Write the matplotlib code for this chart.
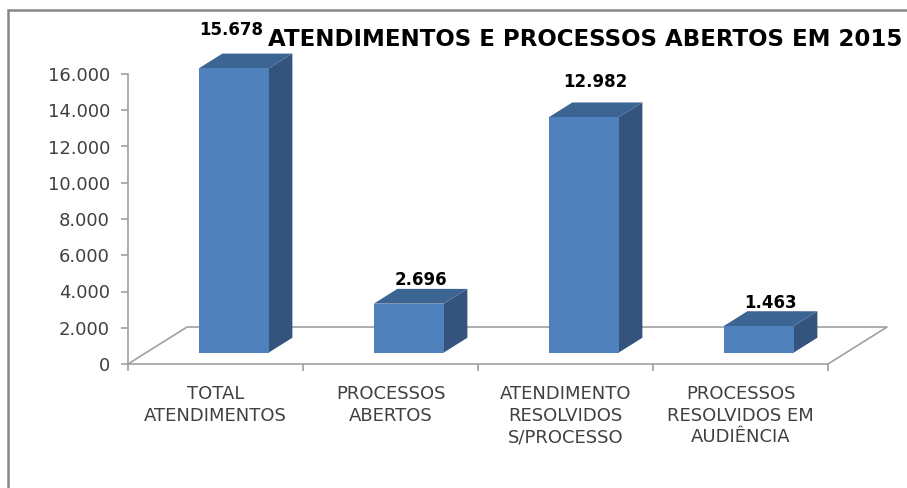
import matplotlib
matplotlib.use("Agg")
import matplotlib.pyplot as plt
from matplotlib.patches import Polygon, Rectangle
from matplotlib.ticker import FuncFormatter, FixedLocator

# data
categories = ["TOTAL\nATENDIMENTOS", "PROCESSOS\nABERTOS",
              "ATENDIMENTO\nRESOLVIDOS\nS/PROCESSO", "PROCESSOS\nRESOLVIDOS EM\nAUDIÊNCIA"]
values = [15678, 2696, 12982, 1463]
y_ticks = [0, 2000, 4000, 6000, 8000, 10000, 12000, 14000, 16000]
title = "ATENDIMENTOS E PROCESSOS ABERTOS EM 2015"

# fake 3D look (Excel-style): full floor depth in data units
DEPTH_X = 0.337
DEPTH_Y = 2040
BAR_W = 0.4
BAR_START = 0.31   # fraction of depth where bar front sits
BAR_DEPTH = 0.4    # fraction of depth used by bar

FRONT = "#4F81BD"
SIDE = "#34547E"
TOP = "#3D6594"
GRID = "#A0A0A0"
TXT = "#404040"

fig = plt.figure(figsize=(9.07, 4.88), dpi=100)
fig.patch.set_facecolor("white")

# outer chart frame (left and top edges visible)
fig.patches.append(Rectangle((8 / 907, -0.1), 1.2, (488 - 10) / 488 + 0.1,
                             transform=fig.transFigure, fill=False,
                             edgecolor="#868686", linewidth=1.8))

ax = fig.add_axes([128 / 907, (488 - 364) / 488, 700 / 907, 290 / 488])
ax.set_xlim(0, len(categories))
ax.set_ylim(0, 16000)
ax.set_facecolor("none")

for s in ["top", "right"]:
    ax.spines[s].set_visible(False)
for s in ["left", "bottom"]:
    ax.spines[s].set_color(GRID)
    ax.spines[s].set_linewidth(1.2)

# floor
n = len(categories)
floor_x = [0, DEPTH_X, n + DEPTH_X, n]
floor_y = [0, DEPTH_Y, DEPTH_Y, 0]
ax.plot(floor_x, floor_y, color=GRID, lw=1.2, clip_on=False, zorder=1)

# bars
xs = [i + 0.5 for i in range(n)]
ox = BAR_START * DEPTH_X
oy = BAR_START * DEPTH_Y
bx = BAR_DEPTH * DEPTH_X
by = BAR_DEPTH * DEPTH_Y
ax.bar([x + ox for x in xs], values, width=BAR_W, bottom=oy, color=FRONT,
       zorder=3, clip_on=False)
labels = []
for x, v in zip(xs, values):
    x0 = x + ox - BAR_W / 2
    x1 = x + ox + BAR_W / 2
    top = v + oy
    side = Polygon([(x1, oy), (x1 + bx, oy + by), (x1 + bx, top + by), (x1, top)],
                   closed=True, facecolor=SIDE, edgecolor="none", zorder=2, clip_on=False)
    lid = Polygon([(x0, top), (x0 + bx, top + by), (x1 + bx, top + by), (x1, top)],
                  closed=True, facecolor=TOP, edgecolor="none", zorder=2, clip_on=False)
    ax.add_patch(side)
    ax.add_patch(lid)
    # excel pushes labels of taller bars a little further up
    lift = -2 + 13 * v / 16000
    t = ax.annotate(f"{v:,}".replace(",", "."), (x + ox + bx / 2, top + by),
                    xytext=(0, lift), textcoords="offset points", ha="center",
                    va="bottom", fontsize=12, fontweight="bold", color="black",
                    annotation_clip=False)
    labels.append(t)

# y axis
ax.yaxis.set_major_locator(FixedLocator(y_ticks))
ax.yaxis.set_major_formatter(FuncFormatter(lambda v, p: f"{v:,.0f}".replace(",", ".")))
ax.tick_params(axis="y", length=5, width=1.2, color=GRID, labelcolor=TXT,
               labelsize=13, pad=8)

# x axis: separators as major ticks, labels on minor ticks
ax.xaxis.set_major_locator(FixedLocator(range(n + 1)))
ax.xaxis.set_major_formatter(FuncFormatter(lambda v, p: ""))
ax.xaxis.set_minor_locator(FixedLocator(xs))
ax.set_xticklabels(categories, minor=True)
ax.tick_params(axis="x", which="major", length=5, width=1.2, color=GRID)
ax.tick_params(axis="x", which="minor", length=0, pad=15, labelcolor=TXT,
               labelsize=13)
for lab in ax.get_xticklabels(minor=True):
    lab.set_linespacing(1.27)
    lab.set_va("top")

ttl = fig.text(268 / 907, 1 - 40 / 488, title, fontsize=16.5, fontweight="bold",
               color="black", ha="left", va="center")

# nudge any value label that runs into the title to its left
fig.canvas.draw()
r = fig.canvas.get_renderer()
tb = ttl.get_window_extent(r)
for t in labels:
    lb = t.get_window_extent(r)
    if lb.overlaps(tb):
        shift = lb.x1 - tb.x0 + 5
        ox_pt, oy_pt = t.xyann
        t.xyann = (ox_pt - shift * 72 / fig.dpi, oy_pt)

fig.savefig("out.png", dpi=100)
